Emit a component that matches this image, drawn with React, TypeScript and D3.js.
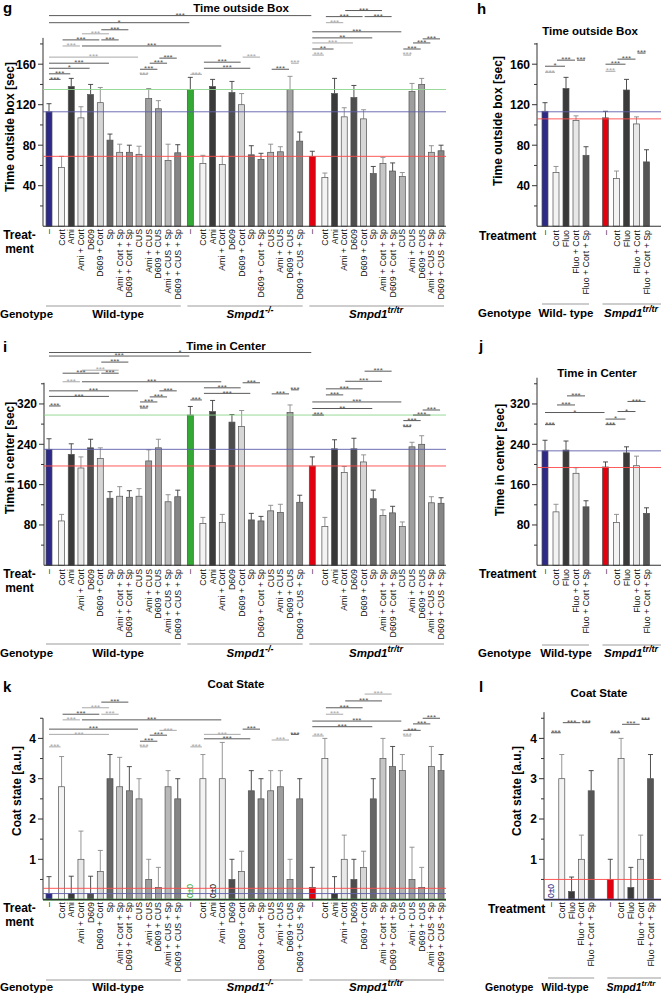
import React from "react";
import * as d3 from "d3";

const FONT = "'Liberation Sans', Arial, Helvetica, sans-serif";

// ---------- categories ----------
const treatmentsWT = ["–", "Cort", "Ami", "Ami + Cort", "D609", "D609 + Cort", "Sp", "Ami + Cort + Sp", "D609 + Cort + Sp", "CUS", "Ami + CUS", "D609 + CUS", "Ami + CUS + Sp", "D609 + CUS + Sp"];
const treatmentsKO = ["–", "Cort", "Ami", "Ami + Cort", "D609", "D609 + Cort", "Sp", "D609 + Cort + Sp", "CUS", "Ami + CUS", "D609 + CUS", "D609 + CUS + Sp"];
const treatmentsTR = ["–", "Cort", "Ami", "Ami + Cort", "D609", "D609 + Cort", "Sp", "Ami + Cort + Sp", "D609 + Cort + Sp", "CUS", "Ami + CUS", "D609 + CUS", "Ami + CUS + Sp", "D609 + CUS + Sp"];
const treatmentsFluo = ["–", "Cort", "Fluo", "Fluo + Cort", "Fluo + Cort + Sp"];

// ---------- values: big panels (WT 14, Smpd1-/- 12, Smpd1tr/tr 14) ----------
const outsideMean = [113, 58, 138, 107, 130, 122, 85, 73, 73, 71, 126, 116, 65, 72.5,
  135, 62, 138, 61, 132, 120, 70.5, 66, 73, 73.5, 135, 84,
  69, 48, 131, 108, 127, 106, 52, 62, 54.5, 49, 133, 140, 73, 74.5];
const outsideErr = [8, 11, 8, 11, 10, 15, 6, 8, 7, 8, 10, 8, 16, 8,
  12, 8, 7, 8, 11, 11, 9, 6, 8, 5, 13, 9,
  5, 4.5, 15, 9, 12, 9, 7, 6, 8, 4, 8, 6, 6.5, 5.5];

const centerMean = [230, 88, 220, 193, 233, 212, 133, 137, 135, 137, 207, 233, 126, 136,
  298, 83, 305, 85, 284, 275, 90, 88, 108, 105, 303, 125,
  197, 77, 231, 184, 231, 205, 132, 99, 104, 77, 235, 240, 124, 123];
const centerErr = [21, 13, 21, 22, 17, 21, 13, 19, 13, 15, 22, 17, 14, 13,
  17, 12, 22, 16, 15, 32, 13, 9, 11, 16, 15, 14,
  18, 18, 18, 12, 21, 14, 17, 11, 13, 9, 9, 17, 12, 11];

const coatMean = [0.15, 2.8, 0.15, 1.0, 0.15, 0.7, 3.0, 2.8, 2.7, 2.5, 0.5, 0.3, 2.8, 2.5,
  0, 3.0, 0, 3.0, 0.5, 0.7, 2.7, 2.5, 2.7, 2.8, 0.5, 2.5,
  0.3, 3.5, 0.15, 1.0, 0.5, 0.8, 2.5, 3.5, 3.3, 3.2, 0.5, 0.3, 3.3, 3.2];
const coatErr = [0.42, 0.75, 0.43, 0.7, 0.43, 0.52, 0.6, 0.73, 0.6, 0.5, 0.5, 0.5, 0.4, 0.5,
  0, 0.6, 0, 0.9, 0.5, 0.5, 0.5, 0.5, 0.5, 0.4, 0.5, 0.5,
  0.5, 0.5, 0.42, 0.6, 0.5, 0.4, 0.5, 0.5, 0.5, 0.4, 0.8, 0.5, 0.5, 0.4];

// ---------- values: fluoxetine panels (WT 5, Smpd1tr/tr 5) ----------
const fluoOutsideMean = [113.5, 53, 136, 104.5, 70, 107, 47, 134.5, 101, 63.5];
const fluoOutsideErr = [8.5, 6, 11, 4.5, 8.5, 6.5, 7.5, 10.5, 7, 12];
const fluoCenterMean = [227, 106, 228.5, 182.5, 116, 195, 85, 223, 197.5, 103];
const fluoCenterErr = [21, 15, 18, 11, 12, 10, 16, 12, 19, 11];
const fluoCoatMean = [0, 3.0, 0.2, 1.0, 2.7, 0.5, 3.5, 0.3, 1.0, 3.0];
const fluoCoatErr = [0, 0.6, 0.36, 0.6, 0.5, 0.5, 0.5, 0.5, 0.6, 0.6];

// ---------- reference lines (group "-" means) ----------
const refOutside = [135, 113, 69];
const refFluoOutside = [113, 106];
const refCenter = [298, 230, 197];
const refFluoCenter = [227, 194];
const refCoat = [0.28, 0.15, 0];
const refFluoCoat = [0.5, 0];

// ---------- significance brackets: [fromBar, toBar, level, label, light] ----------
type Sig = [number, number, number, string, number];
const outsideSig: Sig[] = [
  [0, 26, 208, "***", 0], [0, 14, 201, "*", 0], [5, 8, 194, "***", 0], [3, 6, 190, "***", 1],
  [1, 5, 184, "***", 0], [5, 7, 184, "***", 0], [1, 3, 178, "***", 1], [3, 17, 178, "***", 0],
  [0, 9, 167, "***", 1], [0, 6, 161, "***", 0], [0, 4, 156, "*", 0], [0, 2, 150.5, "***", 0],
  [0, 1, 145, "***", 0], [11, 13, 166, "***", 0], [10, 12, 161, "***", 0], [9, 11, 155, "***", 0],
  [9, 10, 150, "***", 1], [14, 15, 150, "***", 1], [15, 19, 162, "***", 0], [15, 20, 156, "***", 0],
  [19, 21, 167, "***", 1], [22, 24, 155, "***", 0], [24, 25, 161, "***", 1], [29, 33, 213, "***", 0],
  [27, 31, 207, "***", 0], [31, 34, 207, "***", 0], [27, 29, 201, "***", 1], [26, 35, 192, "***", 0],
  [26, 32, 186, "**", 0], [26, 30, 181, "***", 1], [26, 28, 175, "**", 0], [26, 27, 169, "***", 1],
  [35, 36, 169, "***", 1], [35, 37, 175, "***", 0], [36, 38, 181, "***", 0], [37, 39, 185, "***", 0],
];
const fluoOutsideSig: Sig[] = [
  [0, 1, 152, "***", 1], [0, 2, 158, "*", 0], [1, 3, 164, "***", 0], [3, 4, 164, "***", 0],
  [5, 6, 153, "***", 1], [5, 7, 160, "***", 0], [6, 8, 165, "***", 0], [8, 9, 171, "***", 0],
];
const centerSig: Sig[] = [
  [0, 26, 422, "*", 0], [0, 14, 415, "***", 0], [5, 8, 403, "***", 0], [3, 7, 387, "***", 1],
  [1, 5, 381, "***", 0], [5, 7, 381, "***", 0], [1, 3, 364, "***", 1], [3, 17, 364, "***", 0],
  [0, 9, 346, "***", 0], [0, 6, 335, "***", 0], [0, 1, 316, "***", 0], [11, 13, 346, "***", 0],
  [10, 12, 334, "***", 0], [9, 11, 324, "***", 0], [9, 10, 312, "***", 0], [14, 15, 328, "***", 0],
  [15, 19, 352, "***", 0], [15, 20, 341, "***", 0], [19, 21, 362, "***", 0], [22, 24, 340, "***", 0],
  [24, 25, 348, "***", 0], [31, 34, 385, "***", 0], [29, 33, 365, "***", 0], [27, 31, 350, "***", 0],
  [27, 29, 338, "***", 0], [26, 35, 324, "***", 0], [26, 32, 311, "**", 0], [26, 27, 298, "***", 0],
  [35, 36, 275, "***", 0], [35, 37, 287, "***", 0], [36, 38, 298, "***", 0], [37, 39, 308, "***", 0],
];
const fluoCenterSig: Sig[] = [
  [0, 1, 279, "***", 0], [0, 5, 303, "*", 0], [1, 3, 318, "***", 0], [2, 4, 336, "***", 0],
  [5, 6, 279, "***", 0], [5, 7, 290, "*", 0], [6, 8, 305, "*", 0], [7, 9, 325, "***", 0],
];
const coatSig: Sig[] = [
  [5, 8, 4.9, "***", 0], [3, 6, 4.76, "***", 1], [1, 5, 4.6, "***", 0], [5, 7, 4.6, "***", 1],
  [1, 3, 4.46, "***", 1], [3, 17, 4.46, "***", 0], [0, 9, 4.23, "***", 0], [0, 6, 4.1, "***", 1],
  [0, 1, 3.79, "***", 1], [11, 13, 4.2, "***", 1], [10, 12, 4.08, "***", 0], [9, 11, 3.93, "***", 0],
  [9, 10, 3.79, "***", 1], [14, 15, 3.79, "***", 1], [15, 19, 4.1, "***", 1], [15, 20, 3.99, "***", 0],
  [19, 21, 4.23, "***", 0], [22, 24, 3.96, "***", 1], [24, 25, 4.1, "***", 0], [31, 34, 5.1, "***", 1],
  [29, 33, 4.93, "***", 0], [27, 31, 4.76, "***", 0], [27, 29, 4.6, "***", 1], [26, 35, 4.43, "***", 0],
  [26, 32, 4.29, "***", 0], [26, 27, 4.06, "***", 1], [35, 36, 4.06, "***", 1], [35, 37, 4.2, "***", 0],
  [36, 38, 4.36, "***", 0], [37, 39, 4.5, "***", 0],
];
const fluoCoatSig: Sig[] = [
  [0, 1, 4.14, "***", 0], [1, 3, 4.39, "***", 0], [3, 4, 4.39, "***", 0],
  [5, 6, 4.14, "***", 0], [6, 8, 4.35, "***", 0], [8, 9, 4.47, "***", 0],
];

// ---------- styles ----------
const treatColor: Record<string, string> = {
  "Cort": "#f3f3f3", "Ami": "#3a3a3a", "Ami + Cort": "#e8e8e8", "D609": "#4e4e4e",
  "D609 + Cort": "#d6d6d6", "Sp": "#676767", "Ami + Cort + Sp": "#c6c6c6",
  "D609 + Cort + Sp": "#8c8c8c", "CUS": "#b6b6b6", "Ami + CUS": "#9e9e9e",
  "D609 + CUS": "#a2a2a2", "Ami + CUS + Sp": "#b8b8b8", "D609 + CUS + Sp": "#858585",
  "Fluo": "#3a3a3a", "Fluo + Cort": "#e8e8e8", "Fluo + Cort + Sp": "#565656",
};
const BLUE = "#2d2a87", GREEN = "#35a935", RED = "#e3000f";
const refColorBig = ["#8fd58f", "#6060ad", "#ff4a4a"];

function makeSlots(sizes: number[], firstGap: number, groupGap: number) {
  const out: number[] = [];
  let p = 0;
  sizes.forEach((n) => {
    for (let i = 0; i < n; i++) {
      if (out.length === 0) p = 0;
      else if (i === 0) p += groupGap;
      else if (i === 1) p += firstGap;
      else p += 1;
      out.push(p);
    }
  });
  return out;
}

type Geno = { x: number; text: string; sup?: string };

function Panel(p: any) {
  const x = d3.scaleLinear().domain([0, 1]).range([p.x0, p.x0 + p.step]);
  const y = d3.scaleLinear().domain([0, p.axisTop]).range([p.y0, p.y0 - p.ppu * p.axisTop]);
  const slots: number[] = p.slots;
  const cx = (i: number) => x(slots[i]);
  const groups: { start: number; end: number }[] = [];
  let s = 0;
  p.groupSizes.forEach((n: number) => { groups.push({ start: s, end: s + n - 1 }); s += n; });
  const groupOf = (i: number) => groups.findIndex((g) => i >= g.start && i <= g.end);
  const nT = Math.floor(p.axisTop / p.tickStep + 1e-6);
  const ticks = d3.range(1, nT + 1);
  const bw = 6;
  const gf = p.genoFont || 11.5;
  const colorOf = (i: number) => (p.labels[i] === "–" ? p.genoColors[groupOf(i)] : treatColor[p.labels[i]]);
  return (
    <g>
      <text x={p.letterX} y={p.letterY} fontSize={15} fontWeight="bold">{p.letter}</text>
      <text x={p.titleX} y={p.titleY} fontSize={11.5} fontWeight="bold" textAnchor="middle">{p.title}</text>
      <text transform={`translate(${p.yTitleX},${p.yTitleY}) rotate(-90)`} fontSize={12} fontWeight="bold" textAnchor="middle" dy="0.35em">{p.yTitle}</text>
      {/* axis */}
      <line x1={p.axisX} x2={p.axisX} y1={y(0)} y2={y(p.axisTop)} stroke="#333" strokeWidth={1} />
      {ticks.map((k: number) => {
        const v = k * p.tickStep;
        const major = k % 2 === 0;
        return (
          <g key={k}>
            <line x1={p.axisX - (major ? 5 : 3)} x2={p.axisX} y1={y(v)} y2={y(v)} stroke="#333" strokeWidth={1} />
            {major && (
              <text x={p.axisX - 7} y={y(v)} dy="0.36em" textAnchor="end" fontSize={12} fontWeight="bold">{d3.format("d")(v)}</text>
            )}
          </g>
        );
      })}
      {/* bars */}
      {p.means.map((m: number, i: number) => {
        const fill = colorOf(i);
        const e = p.errs[i];
        const light = d3.hsl(fill).l > 0.6;
        const wc = light ? "#8a8a8a" : "#3c3c3c";
        if (m === 0 && e === 0) {
          return (
            <text key={i} transform={`translate(${cx(i)},${y(0) - 1.5}) rotate(-90)`} dy="0.35em" fontSize={8.5} fill={fill === "#3a3a3a" ? "#111" : fill}>0±0</text>
          );
        }
        return (
          <g key={i}>
            <line x1={cx(i)} x2={cx(i)} y1={y(m)} y2={y(m + e)} stroke={wc} strokeWidth={0.9} />
            <line x1={cx(i) - 2.5} x2={cx(i) + 2.5} y1={y(m + e)} y2={y(m + e)} stroke={wc} strokeWidth={0.9} />
            <rect x={cx(i) - bw / 2} y={y(m)} width={bw} height={y(0) - y(m)} fill={fill} stroke="#505050" strokeWidth={0.7} />
          </g>
        );
      })}
      {/* reference lines */}
      {p.refs.map((v: number, k: number) => (
        <line key={k} x1={p.axisX} x2={p.axisEnd} y1={y(v)} y2={y(v)} stroke={p.refColors[k]}
          strokeWidth={v === 0 ? 2.4 : 1} opacity={v === 0 ? 0.75 : 0.9} />
      ))}
      {/* baseline */}
      <line x1={p.axisX} x2={p.axisEnd} y1={y(0)} y2={y(0)} stroke="#333" strokeWidth={1.1} />
      {/* significance */}
      {p.sigs.map((sg: Sig, k: number) => {
        const [a, b, lv, lab, lt] = sg;
        const x1 = cx(a) + (a === groups[groupOf(a)].start ? 0 : 1);
        const x2 = cx(b) - 1;
        const col = lt ? "#a8a8a8" : "#5a5a5a";
        return (
          <g key={k}>
            <line x1={x1} x2={x2} y1={y(lv)} y2={y(lv)} stroke={col} strokeWidth={1} />
            <text x={(x1 + x2) / 2} y={y(lv) + 2.2} fontSize={8} textAnchor="middle" fill={col}>{lab}</text>
          </g>
        );
      })}
      {/* treatment labels */}
      {p.labels.map((l: string, i: number) => (
        <text key={i} transform={`translate(${cx(i)},${p.treatY}) rotate(-90)`} dy="0.35em" textAnchor="end" fontSize={8.8} fill="#111">{l}</text>
      ))}
      {p.treatLines.map((t: string, k: number) => (
        <text key={k} x={p.treatX} y={p.treatLabelY + k * 14} textAnchor={p.treatAnchor} fontSize={12} fontWeight="bold">{t}</text>
      ))}
      {/* genotype */}
      <text x={p.genoTitleX} y={p.genoY} fontSize={gf} fontWeight="bold">Genotype</text>
      {groups.map((g, k) => (
        <line key={k} x1={cx(g.start) - 3} x2={k === groups.length - 1 && p.lastLineEnd ? p.lastLineEnd : cx(g.end) + 3}
          y1={p.genoLineY} y2={p.genoLineY} stroke="#9c9c9c" strokeWidth={1.2} />
      ))}
      {p.genoLabels.map((g: Geno, k: number) => (
        <text key={k} x={g.x} y={p.genoY} fontSize={gf} fontWeight="bold" textAnchor="middle">
          {g.sup ? (
            <>
              <tspan fontStyle="italic">{g.text}</tspan>
              <tspan fontStyle="italic" fontSize={gf - 2.5} dy={-5}>{g.sup}</tspan>
            </>
          ) : g.text}
        </text>
      ))}
    </g>
  );
}

const bigSlots = makeSlots([14, 12, 14], 1.3, 1.3);
const fluoSlots = makeSlots([5, 5], 1.1, 1.95);
const bigLabels = [...treatmentsWT, ...treatmentsKO, ...treatmentsTR];
const fluoLabels = [...treatmentsFluo, ...treatmentsFluo];
const bigGeno: Geno[] = [{ x: 118, text: "Wild-type" }, { x: 250, text: "Smpd1", sup: "-/-" }, { x: 376, text: "Smpd1", sup: "tr/tr" }];

const common = { slots: bigSlots, labels: bigLabels, groupSizes: [14, 12, 14], genoColors: [BLUE, GREEN, RED], x0: 49, step: 9.68, axisEnd: 446, treatLines: ["Treat-", "ment"], treatX: 19.5, treatAnchor: "middle", genoTitleX: 0, genoLabels: bigGeno };
const commonF = { slots: fluoSlots, labels: fluoLabels, groupSizes: [5, 5], genoColors: [BLUE, RED], x0: 545, step: 10, axisEnd: 661, treatLines: ["Treatment"], treatAnchor: "start", lastLineEnd: 661 };

export default function App() {
  return (
    <div>
      <style>{`body{margin:0;background:#fff}`}</style>
      <svg width={661} height={995} viewBox="0 0 661 995" style={{ display: "block", fontFamily: FONT, background: "#fff" }}>
        {/* g */}
        <Panel {...common} letter="g" letterX={3} letterY={13} title="Time outside Box" titleX={241} titleY={12}
          yTitle="Time outside box [sec]" yTitleX={10} yTitleY={127} axisX={43} y0={226.2} ppu={1.0125} axisTop={186} tickStep={20}
          means={outsideMean} errs={outsideErr} refs={refOutside} refColors={refColorBig} sigs={outsideSig}
          treatY={229} treatLabelY={239} genoLineY={306} genoY={318} />
        {/* h */}
        <Panel {...commonF} letter="h" letterX={477} letterY={14} title="Time outside Box" titleX={590} titleY={35}
          yTitle="Time outside box [sec]" yTitleX={498} yTitleY={121} axisX={537} y0={226.2} ppu={1.0125} axisTop={181} tickStep={20}
          means={fluoOutsideMean} errs={fluoOutsideErr} refs={refFluoOutside} refColors={["#6060ad", "#ff4a4a"]} sigs={fluoOutsideSig}
          treatY={230} treatX={479} treatLabelY={240} genoTitleX={478} genoLineY={304} genoY={317}
          genoLabels={[{ x: 566, text: "Wild- type" }, { x: 631, text: "Smpd1", sup: "tr/tr" }]} />
        {/* i */}
        <Panel {...common} letter="i" letterX={3} letterY={352} title="Time in Center" titleX={226} titleY={350}
          yTitle="Time in center [sec]" yTitleX={10} yTitleY={458} axisX={44} y0={565.3} ppu={0.5042} axisTop={362} tickStep={40}
          means={centerMean} errs={centerErr} refs={refCenter} refColors={refColorBig} sigs={centerSig}
          treatY={569} treatLabelY={578} genoLineY={644} genoY={657} />
        {/* j */}
        <Panel {...commonF} letter="j" letterX={479} letterY={351} title="Time in Center" titleX={597} titleY={377}
          yTitle="Time in center [sec]" yTitleX={500} yTitleY={460} axisX={537} y0={565.3} ppu={0.5042} axisTop={372} tickStep={40}
          means={fluoCenterMean} errs={fluoCenterErr} refs={refFluoCenter} refColors={["#6060ad", "#ff4a4a"]} sigs={fluoCenterSig}
          treatY={569} treatX={479} treatLabelY={578} genoTitleX={478} genoLineY={645} genoY={657}
          genoLabels={[{ x: 566, text: "Wild-type" }, { x: 631, text: "Smpd1", sup: "tr/tr" }]} />
        {/* k */}
        <Panel {...common} letter="k" letterX={3} letterY={692} title="Coat State" titleX={236} titleY={688}
          yTitle="Coat state [a.u.]" yTitleX={16.5} yTitleY={791} axisX={43} y0={899.6} ppu={40.3} axisTop={4.5} tickStep={0.5}
          means={coatMean} errs={coatErr} refs={refCoat} refColors={["#ff4a4a", "#6060ad", "#3c9a3c"]} sigs={coatSig}
          treatY={902} treatLabelY={912} genoLineY={980} genoY={991} />
        {/* l */}
        <Panel {...commonF} x0={551} step={9.8} letter="l" letterX={479} letterY={692} title="Coat State" titleX={599} titleY={697}
          yTitle="Coat state [a.u.]" yTitleX={517} yTitleY={791} axisX={544} y0={899.6} ppu={40.3} axisTop={4.65} tickStep={0.5}
          means={fluoCoatMean} errs={fluoCoatErr} refs={refFluoCoat} refColors={["#ff4a4a", "#6a6ab8"]} sigs={fluoCoatSig}
          treatY={902} treatX={488} treatLabelY={913} genoTitleX={485} genoFont={10.5} genoLineY={978} genoY={991}
          genoLabels={[{ x: 565, text: "Wild-type" }, { x: 631, text: "Smpd1", sup: "tr/tr" }]} />
      </svg>
    </div>
  );
}
